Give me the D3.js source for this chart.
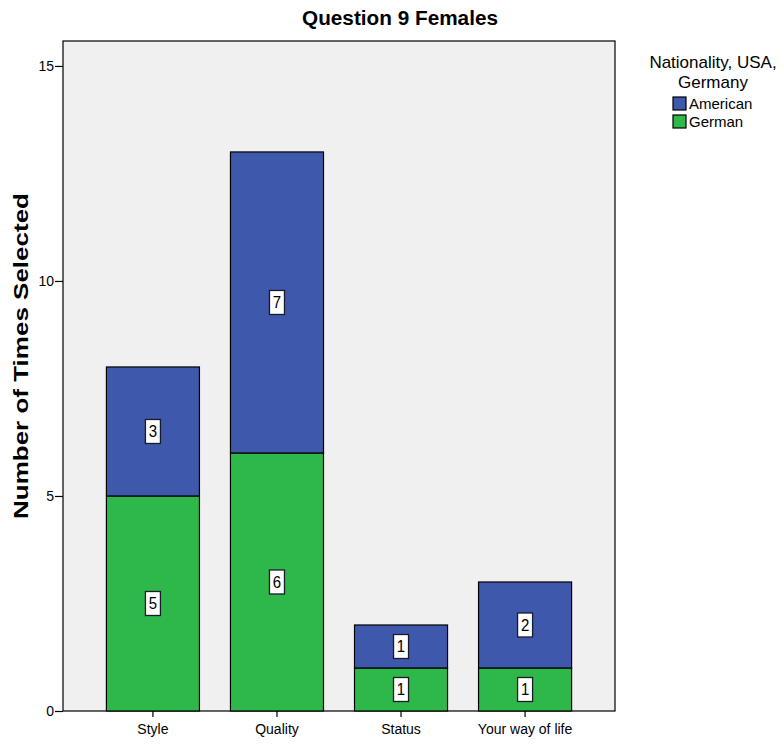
<!DOCTYPE html>
<html>
<head>
<meta charset="utf-8">
<script src="https://cdn.jsdelivr.net/npm/d3@7"></script>
<style>
  body { margin: 0; background: #fff; }
  text { font-family: "Liberation Sans", Arial, sans-serif; }
</style>
</head>
<body>
<svg id="chart" width="783" height="745"></svg>
<script>
// Stacked counts per reason, by nationality
const categories = ["Style", "Quality", "Status", "Your way of life"];
const german = [5, 6, 1, 1];
const american = [3, 7, 1, 2];
const seriesNames = ["German", "American"];
const legendOrder = ["American", "German"];
const yTicks = [0, 5, 10, 15];

const colors = { American: "#3e58ab", German: "#2fb84a" };
const FONT = "Liberation Sans, Arial, sans-serif";

const svg = d3.select("#chart");
const plot = { left: 63, top: 41, right: 615, bottom: 711 };

const x = d3.scaleBand()
  .domain(categories)
  .range([plot.left, plot.right])
  .paddingInner(0.25)
  .paddingOuter(0.35);

const y = d3.scaleLinear()
  .domain([0, 15.58])
  .range([plot.bottom, plot.top]);

// Plot background
svg.append("rect")
  .attr("x", plot.left).attr("y", plot.top)
  .attr("width", plot.right - plot.left)
  .attr("height", plot.bottom - plot.top)
  .attr("fill", "#f0f0f0")
  .attr("stroke", "#000").attr("stroke-width", 1.2);

// Stack data
const rows = categories.map((c, i) => ({ cat: c, German: german[i], American: american[i] }));
const stack = d3.stack().keys(seriesNames)(rows);

const layers = svg.append("g").selectAll("g")
  .data(stack).join("g")
  .attr("fill", d => colors[d.key]);

layers.selectAll("rect")
  .data(d => d)
  .join("rect")
  .attr("x", d => x(d.data.cat))
  .attr("y", d => y(d[1]))
  .attr("width", x.bandwidth())
  .attr("height", d => y(d[0]) - y(d[1]))
  .attr("stroke", "#000").attr("stroke-width", 1.2);

// Value labels in white boxes
const labels = svg.append("g");
stack.forEach(layer => {
  layer.forEach(d => {
    const v = d[1] - d[0];
    const cx = x(d.data.cat) + x.bandwidth() / 2;
    const cy = (y(d[0]) + y(d[1])) / 2;
    labels.append("rect")
      .attr("x", cx - 7.5).attr("y", cy - 12)
      .attr("width", 15).attr("height", 24)
      .attr("fill", "#fff").attr("stroke", "#1a1a2a").attr("stroke-width", 1.3);
    labels.append("text")
      .attr("transform", `translate(${cx},${cy + 6}) scale(1,1.15)`)
      .attr("text-anchor", "middle")
      .attr("font-size", 15)
      .attr("fill", "#000")
      .text(v);
  });
});

// Axes
const yAxis = d3.axisLeft(y).tickValues(yTicks).tickSize(8).tickPadding(1);
const gy = svg.append("g").attr("transform", `translate(${plot.left},0)`).call(yAxis);
gy.select(".domain").remove();
gy.selectAll("line").attr("stroke", "#000").attr("stroke-width", 1.2);
gy.selectAll("text").attr("font-size", 14).attr("fill", "#000").attr("font-family", FONT);

const xAxis = d3.axisBottom(x).tickSize(6).tickPadding(7);
const gx = svg.append("g").attr("transform", `translate(0,${plot.bottom})`).call(xAxis);
gx.select(".domain").remove();
gx.selectAll("line").attr("stroke", "#000").attr("stroke-width", 1.2);
gx.selectAll("text").attr("font-size", 14).attr("fill", "#000").attr("font-family", FONT);

// Title, centred over the whole chart
svg.append("text")
  .attr("x", 400).attr("y", 25)
  .attr("text-anchor", "middle")
  .attr("font-size", 20).attr("font-weight", "bold")
  .attr("textLength", 196).attr("lengthAdjust", "spacingAndGlyphs")
  .text("Question 9 Females");

// Y axis title
svg.append("text")
  .attr("transform", `translate(28,356) rotate(-90)`)
  .attr("text-anchor", "middle")
  .attr("font-size", 21).attr("font-weight", "bold")
  .attr("textLength", 326).attr("lengthAdjust", "spacingAndGlyphs")
  .text("Number of Times Selected");

// Legend
const lg = svg.append("g");
lg.append("text").attr("x", 713).attr("y", 68).attr("text-anchor", "middle")
  .attr("font-size", 17).text("Nationality, USA,");
lg.append("text").attr("x", 713).attr("y", 88).attr("text-anchor", "middle")
  .attr("font-size", 17).text("Germany");
legendOrder.forEach((k, i) => {
  const yy = 97 + i * 18;
  lg.append("rect").attr("x", 673).attr("y", yy).attr("width", 13).attr("height", 13)
    .attr("fill", colors[k]).attr("stroke", "#000").attr("stroke-width", 1.2);
  lg.append("text").attr("x", 689).attr("y", yy + 12).attr("font-size", 15).text(k);
});
</script>
</body>
</html>
